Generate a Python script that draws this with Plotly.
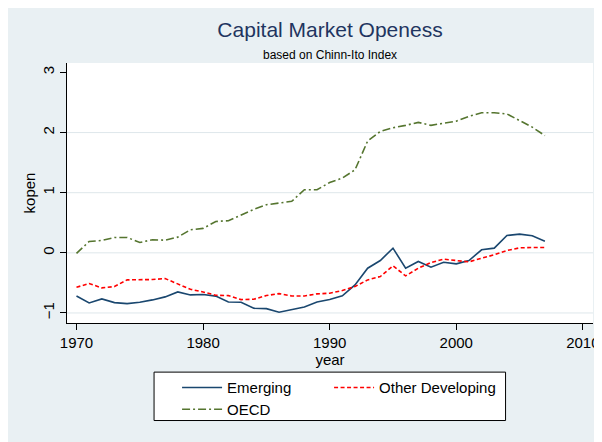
import plotly.graph_objects as go

# ---------------- data ----------------
years = list(range(1970, 2008))

emerging = [-0.717, -0.833, -0.767, -0.828, -0.844, -0.822, -0.783, -0.733, -0.650, -0.700,
            -0.694, -0.720, -0.817, -0.822, -0.922, -0.928, -0.989, -0.944, -0.900, -0.817,
            -0.775, -0.714, -0.533, -0.256, -0.128, 0.078, -0.256, -0.144, -0.239, -0.156,
            -0.183, -0.128, 0.050, 0.078, 0.289, 0.311, 0.283, 0.194]

other_developing = [-0.572, -0.511, -0.583, -0.561, -0.450, -0.450, -0.444, -0.428, -0.511, -0.606,
                    -0.650, -0.706, -0.711, -0.778, -0.772, -0.711, -0.678, -0.717, -0.717, -0.683,
                    -0.672, -0.628, -0.561, -0.450, -0.394, -0.217, -0.383, -0.256, -0.161, -0.106,
                    -0.128, -0.150, -0.089, -0.033, 0.039, 0.083, 0.089, 0.089]

oecd = [-0.010, 0.189, 0.206, 0.256, 0.256, 0.172, 0.217, 0.211, 0.261, 0.383,
        0.406, 0.522, 0.533, 0.633, 0.722, 0.800, 0.828, 0.856, 1.050, 1.050,
        1.170, 1.244, 1.380, 1.860, 2.020, 2.080, 2.120, 2.170, 2.120, 2.160,
        2.190, 2.270, 2.330, 2.330, 2.310, 2.200, 2.090, 1.950]

x_ticks = [1970, 1980, 1990, 2000, 2010]
y_ticks = [-1, 0, 1, 2, 3]
grid_y = [-1, 0, 1, 2]

# ---------------- layout geometry ----------------
# the page body has an 8px margin, so the figure starts at (8, 8) in the window
OFF = 8
W, H = 602 - OFF, 442 - OFF
PL, PR, PT, PB = 67.0 - OFF, 592.7 - OFF, 63.3 - OFF, 322.7 - OFF   # plot area (figure px)
PW, PH = PR - PL, PB - PT

def px_x(x):
    """window x pixel -> paper coordinate"""
    return (x - OFF - PL) / PW

def px_y(y):
    """window y pixel -> paper coordinate"""
    return (PB - (y - OFF)) / PH

FONT = "Liberation Sans, Arial, Helvetica, sans-serif"
BG = "#E9F0F3"
GRID = "#DEE7EB"

fig = go.Figure()
fig.add_trace(go.Scatter(x=years, y=emerging, mode="lines", name="Emerging",
                         line=dict(color="#1A476F", width=1.6),
                         legend="legend", legendwidth=97))
fig.add_trace(go.Scatter(x=years, y=other_developing, mode="lines", name="Other Developing",
                         line=dict(color="#FF0000", width=1.6, dash="4px,2.5px"),
                         legend="legend", legendwidth=125))
fig.add_trace(go.Scatter(x=years, y=oecd, mode="lines", name="OECD",
                         line=dict(color="#55752F", width=1.6, dash="8px,3px,2px,3px"),
                         legend="legend2", legendwidth=97))

shapes = []
# gridlines
for g in grid_y:
    shapes.append(dict(type="line", xref="paper", yref="y", x0=0, x1=1, y0=g, y1=g,
                       line=dict(color=GRID, width=1), layer="below"))
# legend box
shapes.append(dict(type="rect", xref="paper", yref="paper", x0=px_x(154), x1=px_x(505.3),
                   y0=px_y(420), y1=px_y(371.7), fillcolor="white",
                   line=dict(color="black", width=1), layer="below"))

legend_common = dict(orientation="h", xanchor="left", yanchor="middle",
                     font=dict(family=FONT, size=15, color="black"),
                     bgcolor="rgba(0,0,0,0)", borderwidth=0,
                     itemwidth=40, itemclick=False, itemdoubleclick=False)

fig.update_layout(
    width=W, height=H,
    margin=dict(l=PL, r=W - PR, t=PT, b=H - PB, autoexpand=False),
    paper_bgcolor=BG, plot_bgcolor="white",
    font=dict(family=FONT, color="black"),
    title=dict(text="Capital Market Openess", x=0.5, xref="paper", xanchor="center",
               y=1 - (30 - OFF) / H, yref="container", yanchor="middle",
               font=dict(family=FONT, size=21, color="#1F3560")),
    annotations=[dict(text="based on Chinn-Ito Index", xref="paper", yref="paper",
                      x=0.5, y=px_y(55), xanchor="center", yanchor="middle",
                      showarrow=False, font=dict(family=FONT, size=12, color="black"))],
    xaxis=dict(range=[1969.25, 2010.8], tickvals=x_ticks, ticks="outside", ticklen=6,
               tickcolor="black", tickwidth=1, showline=True, linecolor="black", linewidth=1,
               showgrid=False, zeroline=False, tickfont=dict(family=FONT, size=15, color="black"),
               title=dict(text="year", font=dict(family=FONT, size=15, color="black"), standoff=0)),
    yaxis=dict(range=[-1.167, 3.157], tickvals=y_ticks, ticks="outside", ticklen=6,
               tickangle=-90, tickcolor="black", tickwidth=1, showline=True, linecolor="black",
               linewidth=1, showgrid=False, zeroline=False,
               tickfont=dict(family=FONT, size=15, color="black"),
               title=dict(text="kopen", font=dict(family=FONT, size=15, color="black"), standoff=0)),
    legend=dict(x=px_x(177), y=px_y(387.3), **legend_common),
    legend2=dict(x=px_x(177), y=px_y(409), **legend_common),
    shapes=shapes,
    showlegend=True,
)

fig.write_html("out.html")
